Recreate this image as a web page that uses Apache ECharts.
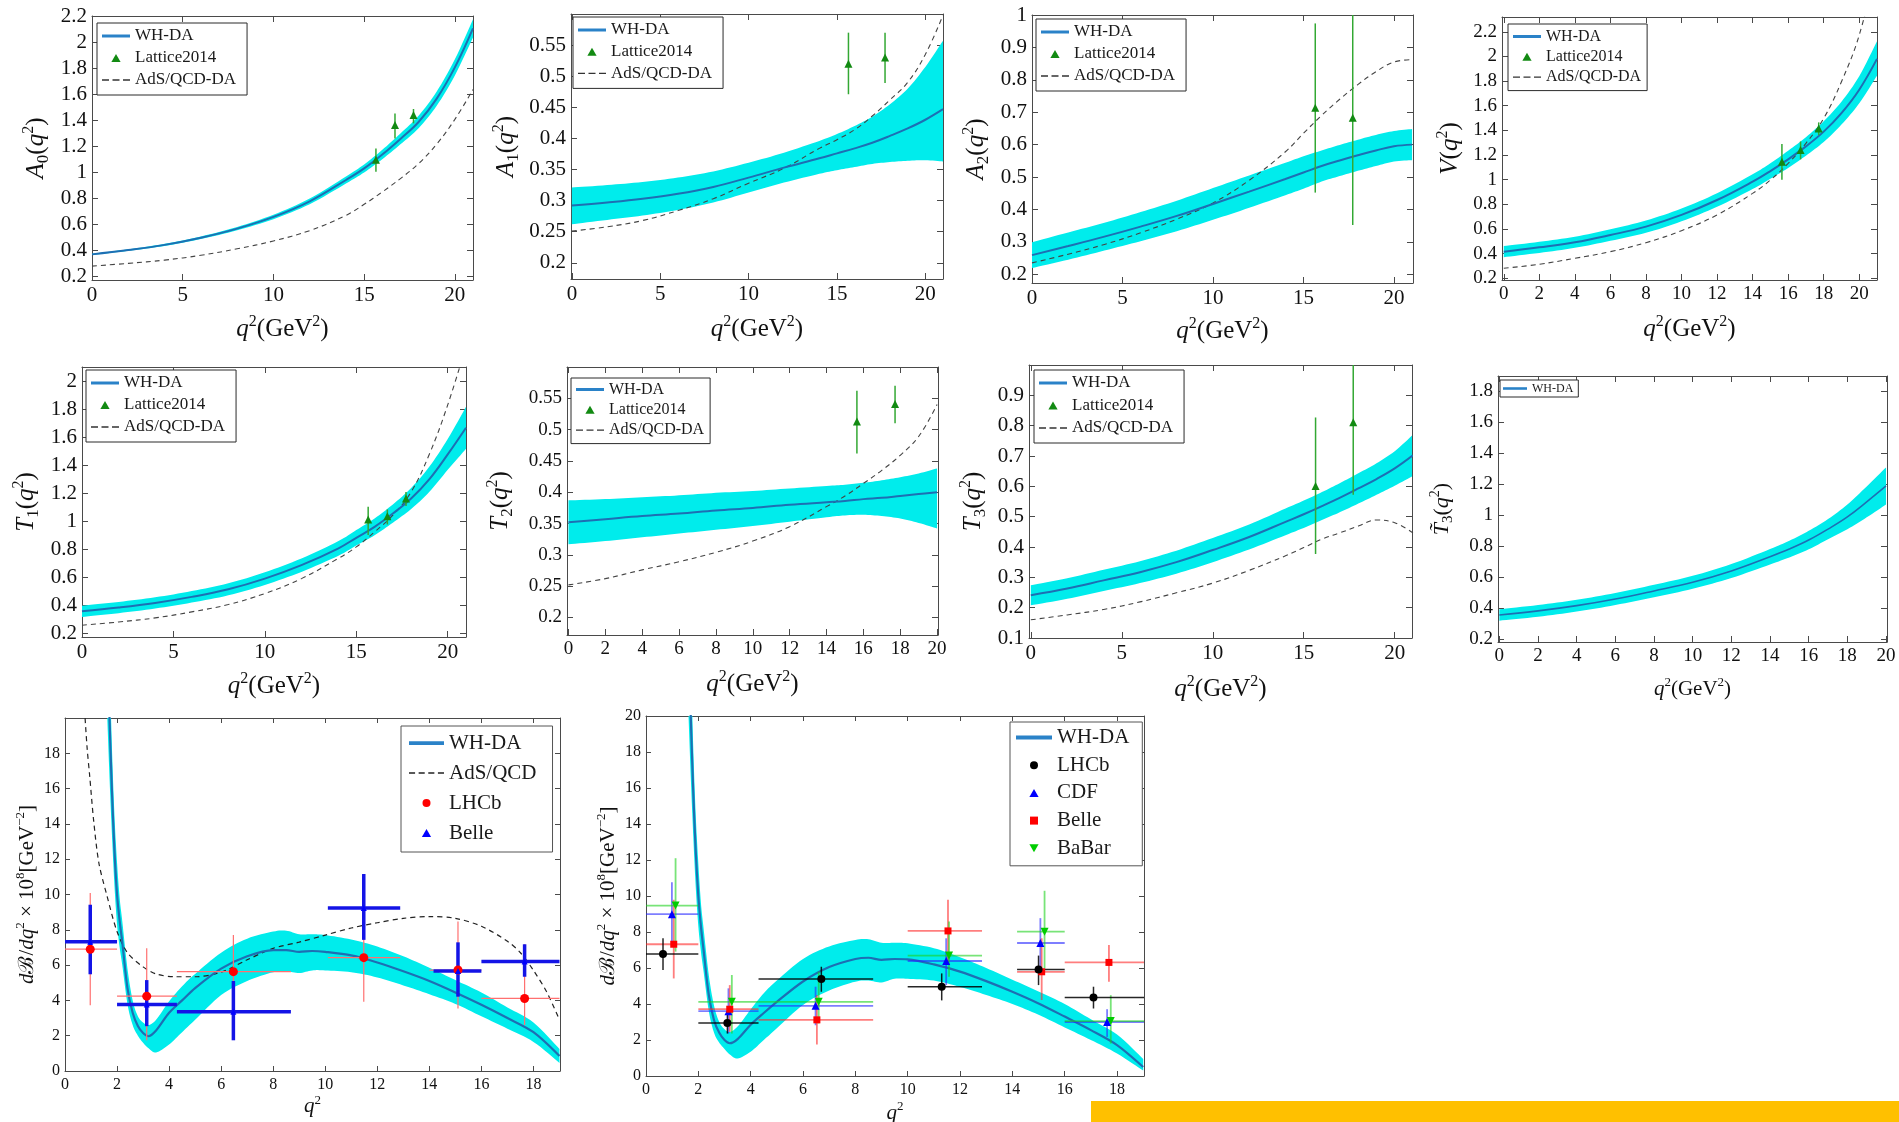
<!DOCTYPE html>
<html>
<head>
<meta charset="utf-8">
<script src="https://cdn.jsdelivr.net/npm/echarts@6/dist/echarts.min.js"></script>
<style>
  html, body { margin: 0; padding: 0; background: #ffffff; }
  #chart { width: 1899px; height: 1122px; }
</style>
</head>
<body>
<div id="chart"></div>
<script>
// ---------------- q^2 grids (GeV^2) ----------------
const Q21 = [0, 2, 4, 6, 8, 10, 12, 14, 15, 16, 17, 18, 19, 20, 21];
const Q20 = [0, 2, 4, 6, 8, 10, 12, 14, 15, 16, 17, 18, 19, 20];
const LAT_Q3 = [15.65, 16.7, 17.72];
const LAT_Q2 = [15.65, 17.72];

// ---------------- A0 ----------------
const A0_MID = [0.372, 0.405, 0.445, 0.50, 0.57, 0.66, 0.78, 0.944, 1.033, 1.14, 1.26, 1.39, 1.57, 1.81, 2.11];
const A0_HI  = [0.376, 0.411, 0.453, 0.51, 0.583, 0.677, 0.802, 0.971, 1.064, 1.176, 1.302, 1.438, 1.625, 1.872, 2.18];
const A0_LO  = [0.368, 0.399, 0.437, 0.49, 0.557, 0.643, 0.758, 0.917, 1.002, 1.104, 1.218, 1.342, 1.515, 1.748, 2.04];
const A0_ADS = [0.282, 0.303, 0.328, 0.365, 0.415, 0.475, 0.555, 0.672, 0.757, 0.852, 0.955, 1.07, 1.22, 1.41, 1.64];
const A0_LAT_V  = [1.10, 1.367, 1.444];
const A0_LAT_LO = [1.008, 1.264, 1.38];
const A0_LAT_HI = [1.187, 1.456, 1.49];

// ---------------- A1 ----------------
const A1_MID = [0.292, 0.297, 0.303, 0.311, 0.322, 0.337, 0.353, 0.368, 0.376, 0.384, 0.393, 0.404, 0.416, 0.430, 0.447];
const A1_HI  = [0.321, 0.325, 0.330, 0.337, 0.347, 0.361, 0.377, 0.396, 0.407, 0.42, 0.435, 0.455, 0.48, 0.515, 0.557];
const A1_LO  = [0.262, 0.269, 0.276, 0.285, 0.297, 0.313, 0.329, 0.343, 0.349, 0.354, 0.359, 0.362, 0.364, 0.365, 0.363];
const A1_ADS = [0.251, 0.258, 0.268, 0.284, 0.303, 0.328, 0.352, 0.384, 0.398, 0.414, 0.436, 0.462, 0.49, 0.535, 0.598];
const A1_LAT_V  = [0.52, 0.53];
const A1_LAT_LO = [0.471, 0.489];
const A1_LAT_HI = [0.57, 0.57];

// ---------------- A2 ----------------
const A2_MID = [0.259, 0.287, 0.316, 0.347, 0.38, 0.417, 0.455, 0.494, 0.514, 0.534, 0.551, 0.567, 0.582, 0.595, 0.60];
const A2_HI  = [0.299, 0.329, 0.359, 0.392, 0.427, 0.466, 0.505, 0.544, 0.564, 0.582, 0.599, 0.615, 0.63, 0.642, 0.648];
const A2_LO  = [0.219, 0.245, 0.273, 0.302, 0.333, 0.368, 0.405, 0.444, 0.464, 0.486, 0.503, 0.519, 0.534, 0.548, 0.552];
const A2_ADS = [0.235, 0.262, 0.292, 0.328, 0.37, 0.42, 0.49, 0.578, 0.635, 0.69, 0.74, 0.785, 0.825, 0.855, 0.862];
const A2_LAT_V  = [0.714, 0.683];
const A2_LAT_LO = [0.452, 0.352];
const A2_LAT_HI = [0.974, 1.013];

// ---------------- V ----------------
const V_MID = [0.416, 0.451, 0.492, 0.551, 0.619, 0.714, 0.835, 0.984, 1.07, 1.165, 1.27, 1.39, 1.54, 1.73, 1.98];
const V_HI  = [0.461, 0.496, 0.537, 0.598, 0.669, 0.766, 0.89, 1.044, 1.133, 1.235, 1.345, 1.474, 1.633, 1.84, 2.124];
const V_LO  = [0.371, 0.406, 0.447, 0.504, 0.569, 0.662, 0.78, 0.924, 1.007, 1.095, 1.195, 1.306, 1.447, 1.62, 1.844];
const V_ADS = [0.281, 0.314, 0.362, 0.416, 0.489, 0.586, 0.714, 0.889, 0.997, 1.132, 1.295, 1.497, 1.795, 2.173, 2.75];
const V_LAT_V  = [1.146, 1.24, 1.416];
const V_LAT_LO = [1.0, 1.165, 1.362];
const V_LAT_HI = [1.29, 1.31, 1.465];

// ---------------- T1 ----------------
const T1_MID = [0.359, 0.386, 0.419, 0.462, 0.516, 0.592, 0.688, 0.806, 0.883, 0.961, 1.056, 1.163, 1.301, 1.477, 1.667];
const T1_HI  = [0.399, 0.426, 0.459, 0.503, 0.559, 0.637, 0.736, 0.858, 0.938, 1.021, 1.121, 1.238, 1.391, 1.587, 1.817];
const T1_LO  = [0.319, 0.346, 0.379, 0.421, 0.473, 0.547, 0.64, 0.754, 0.828, 0.901, 0.991, 1.088, 1.211, 1.367, 1.517];
const T1_ADS = [0.26, 0.283, 0.312, 0.355, 0.407, 0.486, 0.592, 0.735, 0.818, 0.925, 1.044, 1.21, 1.48, 1.83, 2.25];
const T1_LAT_V  = [1.013, 1.037, 1.163];
const T1_LAT_LO = [0.902, 0.978, 1.11];
const T1_LAT_HI = [1.104, 1.085, 1.21];

// ---------------- T2 ----------------
const T2_MID = [0.352, 0.357, 0.362, 0.366, 0.371, 0.375, 0.38, 0.384, 0.386, 0.389, 0.391, 0.394, 0.397, 0.40];
const T2_HI  = [0.387, 0.389, 0.392, 0.395, 0.399, 0.402, 0.406, 0.41, 0.412, 0.415, 0.419, 0.424, 0.43, 0.438];
const T2_LO  = [0.317, 0.322, 0.328, 0.334, 0.34, 0.346, 0.353, 0.36, 0.363, 0.364, 0.362, 0.358, 0.351, 0.342];
const T2_ADS = [0.252, 0.262, 0.276, 0.289, 0.304, 0.322, 0.345, 0.377, 0.394, 0.414, 0.435, 0.459, 0.489, 0.54];
const T2_LAT_V  = [0.513, 0.541];
const T2_LAT_LO = [0.462, 0.51];
const T2_LAT_HI = [0.562, 0.57];

// ---------------- T3 ----------------
const T3_MID = [0.241, 0.263, 0.29, 0.317, 0.35, 0.39, 0.433, 0.483, 0.508, 0.535, 0.563, 0.593, 0.624, 0.659, 0.702];
const T3_HI  = [0.274, 0.297, 0.325, 0.353, 0.388, 0.43, 0.474, 0.527, 0.553, 0.581, 0.611, 0.643, 0.676, 0.716, 0.77];
const T3_LO  = [0.208, 0.229, 0.255, 0.281, 0.312, 0.35, 0.392, 0.439, 0.463, 0.489, 0.515, 0.543, 0.572, 0.602, 0.634];
const T3_ADS = [0.16, 0.176, 0.194, 0.219, 0.249, 0.281, 0.323, 0.371, 0.398, 0.426, 0.447, 0.469, 0.489, 0.48, 0.447];
const T3_LAT_V  = [0.601, 0.811];
const T3_LAT_LO = [0.377, 0.572];
const T3_LAT_HI = [0.827, 1.05];

// ---------------- T3 tilde ----------------
const T3T_MID = [0.355, 0.381, 0.415, 0.458, 0.51, 0.566, 0.639, 0.731, 0.781, 0.839, 0.91, 0.989, 1.086, 1.189];
const T3T_HI  = [0.392, 0.419, 0.453, 0.497, 0.55, 0.608, 0.684, 0.781, 0.835, 0.899, 0.975, 1.069, 1.186, 1.309];
const T3T_LO  = [0.318, 0.343, 0.377, 0.419, 0.47, 0.524, 0.594, 0.681, 0.727, 0.779, 0.845, 0.909, 0.986, 1.069];

// ---------------- dB/dq^2 panels ----------------
const BQ = [1.6, 1.7, 1.8, 1.9, 2.0, 2.1, 2.2, 2.4, 2.6, 2.8, 3.0, 3.2, 3.5, 4, 4.5, 5, 6, 7, 8, 8.5, 9, 9.5, 10, 11, 12, 13, 14, 15, 16, 17, 18, 19];
const BL_MID = [26, 20.5, 16, 12.5, 10, 8.5, 7.3, 4.7, 3.3, 2.55, 2.15, 1.97, 2.3, 3.3, 4.0, 4.7, 5.8, 6.5, 6.85, 6.85, 6.75, 6.8, 6.75, 6.55, 6.15, 5.65, 5.1, 4.45, 3.75, 3.0, 2.2, 0.85];
const BL_HI  = [30, 24, 18.5, 14.5, 11.8, 9.8, 8.5, 5.8, 4.0, 3.1, 2.75, 2.6, 2.9, 3.95, 4.8, 5.5, 6.7, 7.5, 7.9, 7.95, 7.75, 7.75, 7.7, 7.45, 7.05, 6.5, 5.85, 5.15, 4.45, 3.6, 2.75, 1.25];
const BL_LO  = [21, 17, 13.5, 10.5, 8.3, 7.0, 6.0, 3.8, 2.6, 2.0, 1.6, 1.3, 1.05, 1.5, 2.2, 2.9, 4.3, 5.1, 5.6, 5.65, 5.55, 5.7, 5.7, 5.6, 5.3, 4.85, 4.35, 3.8, 3.1, 2.4, 1.65, 0.45];
const BL_ADS_Q = [0.75, 0.85, 0.95, 1.1, 1.3, 1.6, 2.0, 2.4, 3.0, 3.5, 4.2, 5.0, 6, 7, 8, 9, 10, 11, 12, 13, 14, 15, 16, 17, 17.5, 18, 18.5, 19];
const BL_ADS   = [20.5, 18.3, 16.7, 14.2, 11.8, 10.0, 7.9, 6.7, 5.9, 5.5, 5.34, 5.34, 5.6, 6.3, 6.95, 7.3, 7.7, 8.1, 8.4, 8.65, 8.75, 8.65, 8.2, 7.35, 6.7, 5.7, 4.5, 2.9];

const BM_MID = [26, 20.5, 16, 12.5, 10, 8.3, 7.0, 4.5, 3.1, 2.4, 2.0, 1.82, 2.05, 2.85, 3.5, 4.12, 5.25, 6.05, 6.5, 6.57, 6.45, 6.5, 6.48, 6.2, 5.8, 5.27, 4.68, 4.03, 3.3, 2.55, 1.72, 0.5];
const BM_HI  = [30, 24, 18.5, 14.5, 11.8, 9.6, 8.2, 5.6, 3.9, 3.0, 2.6, 2.45, 2.75, 3.7, 4.6, 5.3, 6.5, 7.2, 7.56, 7.6, 7.4, 7.4, 7.37, 7.1, 6.6, 6.0, 5.35, 4.7, 4.0, 3.15, 2.3, 0.95];
const BM_LO  = [21, 17, 13.5, 10.5, 8.3, 6.9, 5.8, 3.6, 2.4, 1.85, 1.5, 1.2, 0.97, 1.35, 2.0, 2.65, 3.95, 4.75, 5.24, 5.3, 5.2, 5.4, 5.4, 5.3, 4.95, 4.5, 4.0, 3.4, 2.7, 2.0, 1.25, 0.3];

// measured branching fractions (left panel)
const BL_LHCB_Q  = [0.97, 3.14, 6.47, 11.48, 15.1, 17.66];
const BL_LHCB_V  = [6.9, 4.24, 5.63, 6.42, 5.72, 4.11];
const BL_LHCB_LO = [3.73, 1.74, 2.97, 3.92, 3.54, 2.6];
const BL_LHCB_HI = [10.08, 6.95, 7.71, 8.9, 8.47, 7.18];
const BL_LHCB_QLO = [0, 2, 4.3, 10.1, 14.0, 16];
const BL_LHCB_QHI = [2, 4.3, 8.68, 12.88, 16, 19];
const BL_BELLE_Q  = [0.97, 3.14, 6.47, 11.48, 15.1, 17.66];
const BL_BELLE_V  = [7.33, 3.77, 3.35, 9.23, 5.67, 6.2];
const BL_BELLE_LO = [5.48, 2.54, 1.74, 7.43, 4.21, 5.34];
const BL_BELLE_HI = [9.42, 5.15, 5.1, 11.16, 7.29, 7.18];
const BL_BELLE_QLO = [0, 2, 4.3, 10.1, 14.16, 16];
const BL_BELLE_QHI = [2, 4.3, 8.68, 12.88, 16, 19];

// measured branching fractions (right panel)
const BM_QLO = [0, 2, 4.3, 10.0, 14.18, 16];
const BM_QHI = [2, 4.3, 8.68, 12.84, 16, 19.2];
const BM_LHCB_Q  = [0.65, 3.11, 6.7, 11.3, 15.0, 17.1];
const BM_LHCB_V  = [6.78, 2.95, 5.39, 4.96, 5.92, 4.36];
const BM_LHCB_LO = [5.89, 2.36, 4.68, 4.2, 5.05, 3.75];
const BM_LHCB_HI = [7.65, 3.57, 6.07, 5.7, 6.69, 4.96];
const BM_CDF_Q  = [0.99, 3.15, 6.48, 11.47, 15.07, 17.62];
const BM_CDF_V  = [8.99, 3.6, 3.9, 6.39, 7.39, 3.0];
const BM_CDF_LO = [7.28, 2.36, 2.82, 5.05, 5.98, 2.17];
const BM_CDF_HI = [10.77, 4.87, 4.96, 7.65, 8.77, 3.71];
const BM_BELLE_Q  = [1.06, 3.2, 6.53, 11.54, 15.12, 17.69];
const BM_BELLE_V  = [7.32, 3.71, 3.12, 8.06, 5.79, 6.31];
const BM_BELLE_LO = [5.42, 2.45, 1.75, 6.35, 4.22, 5.24];
const BM_BELLE_HI = [9.79, 5.05, 4.49, 9.79, 7.65, 7.28];
const BM_BABAR_Q  = [1.13, 3.28, 6.6, 11.58, 15.23, 17.76];
const BM_BABAR_V  = [9.47, 4.12, 4.12, 6.69, 8.02, 3.05];
const BM_BABAR_LO = [6.91, 2.36, 2.92, 5.52, 5.98, 1.8];
const BM_BABAR_HI = [12.1, 5.61, 5.79, 8.58, 10.29, 4.49];

// ---------------- tick values ----------------
const XT_5 = [0, 5, 10, 15, 20];
const XT_2 = [0, 2, 4, 6, 8, 10, 12, 14, 16, 18, 20];
const XT_B = [0, 2, 4, 6, 8, 10, 12, 14, 16, 18];
const YT_A0 = [0.2, 0.4, 0.6, 0.8, 1, 1.2, 1.4, 1.6, 1.8, 2, 2.2];
const YT_A1 = [0.2, 0.25, 0.3, 0.35, 0.4, 0.45, 0.5, 0.55];
const YT_A2 = [0.2, 0.3, 0.4, 0.5, 0.6, 0.7, 0.8, 0.9, 1];
const YT_T1 = [0.2, 0.4, 0.6, 0.8, 1, 1.2, 1.4, 1.6, 1.8, 2];
const YT_T3 = [0.1, 0.2, 0.3, 0.4, 0.5, 0.6, 0.7, 0.8, 0.9];
const YT_T3T = [0.2, 0.4, 0.6, 0.8, 1, 1.2, 1.4, 1.6, 1.8];
const YT_BL = [0, 2, 4, 6, 8, 10, 12, 14, 16, 18];
const YT_BM = [0, 2, 4, 6, 8, 10, 12, 14, 16, 18, 20];

// ---------------- styling ----------------
const SERIF = '"Liberation Serif", "DejaVu Serif", "Times New Roman", serif';
const CYAN = '#00ECEC';
const BLUE = '#1d6fb3';
const LEG_BLUE = '#2a82c8';
const GREEN = '#128a12';
const GREEN_BAR = '#33a833';
const AXIS = '#4a4a4a';
const XNAME = '{i|q}{s|2}(GeV{s|2})';
const BNAME_Y = '{i|d}ℬ/{i|dq}{s|2} × 10{s|8}[GeV{s|−2}]';

const grids = [], xAxes = [], yAxes = [], series = [], legends = [];

function fmt(v) { return String(Math.round(v * 1000) / 1000); }

// math-style axis titles: italic symbols, raised superscripts, lowered subscripts
function nameStyle(ns) {
  const lh = Math.round(ns * 1.25);
  const ss = Math.round(ns * 0.64);
  return {
    fontFamily: SERIF, fontSize: ns, lineHeight: lh, color: '#111',
    rich: {
      i: { fontFamily: SERIF, fontSize: ns, lineHeight: lh, fontStyle: 'italic', color: '#111' },
      s: { fontFamily: SERIF, fontSize: ss, lineHeight: Math.round(ns * 0.82), verticalAlign: 'top', color: '#111' },
      b: { fontFamily: SERIF, fontSize: ss + 1, lineHeight: Math.round(ns * 0.8), verticalAlign: 'bottom', color: '#111' }
    }
  };
}

function axes(kind, p, range, ticks, ls, name, gap, ns, tickLen, margin) {
  const tick = { show: true, inside: true, length: tickLen, customValues: ticks, lineStyle: { color: AXIS, width: 1 } };
  const line = { show: true, onZero: false, lineStyle: { color: AXIS, width: 1 } };
  const main = {
    gridIndex: p, type: 'value', min: range[0], max: range[1],
    position: kind === 'x' ? 'bottom' : 'left',
    splitLine: { show: false }, axisLine: line, axisTick: tick,
    axisLabel: { show: true, customValues: ticks, formatter: fmt, margin: margin,
                 fontFamily: SERIF, fontSize: ls, color: '#111' },
    name: name, nameLocation: 'middle', nameGap: gap, nameTextStyle: nameStyle(ns)
  };
  const mirror = {
    gridIndex: p, type: 'value', min: range[0], max: range[1],
    position: kind === 'x' ? 'top' : 'right',
    splitLine: { show: false }, axisLine: line, axisTick: tick, axisLabel: { show: false }
  };
  return [main, mirror];
}

function pairs(q, v) { return q.map((x, i) => [x, v[i]]); }

// smooth pixel path through the mapped points (Catmull-Rom), used only for drawing
function smoothPts(pts, n) {
  const out = [];
  const m = pts.length;
  for (let i = 0; i < m - 1; i++) {
    const p0 = pts[Math.max(i - 1, 0)], p1 = pts[i], p2 = pts[i + 1], p3 = pts[Math.min(i + 2, m - 1)];
    for (let k = 0; k < n; k++) {
      const t = k / n, t2 = t * t, t3 = t2 * t;
      const f = (a, b, c, d) => 0.5 * (2 * b + (c - a) * t + (2 * a - 5 * b + 4 * c - d) * t2 + (3 * b - a - 3 * c + d) * t3);
      out.push([f(p0[0], p1[0], p2[0], p3[0]), f(p0[1], p1[1], p2[1], p3[1])]);
    }
  }
  out.push(pts[m - 1]);
  return out;
}

function addBand(p, q, lo, hi) {
  series.push({
    type: 'custom', xAxisIndex: 2 * p, yAxisIndex: 2 * p, clip: true, silent: true, z: 1,
    data: q.map((x, i) => [x, lo[i], hi[i]]),
    encode: { x: 0, y: [1, 2] },
    renderItem: function (params, api) {
      if (params.dataIndex !== 0) return null;
      const up = smoothPts(q.map((x, i) => api.coord([x, hi[i]])), 8);
      const dn = smoothPts(q.map((x, i) => api.coord([x, lo[i]])), 8).reverse();
      return { type: 'polygon', shape: { points: up.concat(dn) }, style: { fill: CYAN, stroke: null } };
    }
  });
}

function addCurve(p, name, q, v, lineStyle, sm, z) {
  series.push({ type: 'line', name: name, xAxisIndex: 2 * p, yAxisIndex: 2 * p, data: pairs(q, v),
                symbol: 'none', smooth: sm, lineStyle: lineStyle, silent: true, z: z,
                emphasis: { disabled: true } });
}

function addPts(p, name, q, v, symbol, size, color) {
  series.push({ type: 'scatter', name: name, xAxisIndex: 2 * p, yAxisIndex: 2 * p, data: pairs(q, v),
                symbol: symbol, symbolSize: size, itemStyle: { color: color, opacity: 1 },
                silent: true, z: 6, emphasis: { disabled: true } });
}

function addErr(p, q, v, lo, hi, color, width, qlo, qhi) {
  const bins = !!qlo;
  const data = q.map((x, i) => bins ? [x, v[i], lo[i], hi[i], qlo[i], qhi[i]] : [x, v[i], lo[i], hi[i]]);
  series.push({
    type: 'custom', xAxisIndex: 2 * p, yAxisIndex: 2 * p, data: data, clip: true, silent: true, z: 5,
    encode: { x: 0, y: 1 },
    renderItem: function (params, api) {
      const x = api.value(0), y = api.value(1);
      const a = api.coord([x, api.value(2)]), b = api.coord([x, api.value(3)]);
      const kids = [{ type: 'line', shape: { x1: a[0], y1: a[1], x2: b[0], y2: b[1] },
                      style: { stroke: color, lineWidth: width } }];
      if (bins) {
        const c = api.coord([api.value(4), y]), d = api.coord([api.value(5), y]);
        kids.push({ type: 'line', shape: { x1: c[0], y1: c[1], x2: d[0], y2: d[1] },
                    style: { stroke: color, lineWidth: width } });
      }
      return { type: 'group', children: kids };
    }
  });
}

// legend icons
const ICON_LINE = 'path://M0,0H28V3H0Z';
const ICON_DASH3 = 'path://M0,0H7V1.3H0ZM10.5,0H17.5V1.3H10.5ZM21,0H28V1.3H21Z';
const ICON_DASH4 = 'path://M0,0H6V1.6H0ZM9.5,0H15.5V1.6H9.5ZM19,0H25V1.6H19ZM28.5,0H34.5V1.6H28.5Z';
const ICON_UP = 'path://M5,0L10,8.7L0,8.7Z';
const ICON_DOWN = 'path://M0,0H10L5,8.7Z';
const ICON_SQ = 'path://M0,0H10V10H0Z';
const ICON_DOT = 'path://M5,0A5,5,0,1,1,5,10A5,5,0,1,1,5,0Z';

function item(name, icon, color) {
  return { name: name, icon: icon, itemStyle: { color: color, borderWidth: 0, opacity: 1 } };
}

function legendBox(o) {
  return {
    orient: 'vertical', left: o.left, top: o.top, padding: o.pad,
    itemWidth: o.iw, itemHeight: o.ih, itemGap: o.gap, symbolKeepAspect: true,
    borderColor: o.bc || '#2b2b2b', borderWidth: 1, backgroundColor: '#ffffff',
    selectedMode: false, z: 10,
    textStyle: { fontFamily: SERIF, fontSize: o.fs, color: '#1a1a1a', lineHeight: o.lh },
    data: o.items
  };
}

const TOP_ITEMS = [item('WH-DA', ICON_LINE, LEG_BLUE), item('Lattice2014', ICON_UP, GREEN),
                   item('AdS/QCD-DA', ICON_DASH3, '#333333')];

// ---------------- panel layout ----------------
const PANELS = [
  { g: [92, 16, 381, 264],   x: [0, 21],       y: [0.175, 2.205], xt: XT_5, yt: YT_A0,  ls: 21, xg: 34, yn: '{i|A}{b|0}({i|q}{s|2})', yg: 40, ns: 25 },
  { g: [571, 14, 372, 265],  x: [-0.05, 21],   y: [0.174, 0.6],   xt: XT_5, yt: YT_A1,  ls: 21, xg: 35, yn: '{i|A}{b|1}({i|q}{s|2})', yg: 49, ns: 25 },
  { g: [1032, 15, 381, 268], x: [0, 21.05],    y: [0.173, 1],     xt: XT_5, yt: YT_A2,  ls: 21, xg: 33, yn: '{i|A}{b|2}({i|q}{s|2})', yg: 40, ns: 25 },
  { g: [1502, 17, 375, 263], x: [-0.1, 21],    y: [0.186, 2.32],  xt: XT_2, yt: YT_A0,  ls: 19, xg: 34, yn: '{i|V}({i|q}{s|2})',      yg: 36, ns: 25 },
  { g: [82, 367, 384, 270],  x: [0, 21],       y: [0.176, 2.1],   xt: XT_5, yt: YT_T1,  ls: 21, xg: 34, yn: '{i|T}{b|1}({i|q}{s|2})', yg: 40, ns: 25 },
  { g: [567, 367, 371, 268], x: [-0.08, 20.05], y: [0.172, 0.6],  xt: XT_2, yt: YT_A1,  ls: 19, xg: 34, yn: '{i|T}{b|2}({i|q}{s|2})', yg: 51, ns: 25 },
  { g: [1029, 365, 383, 273], x: [-0.1, 20.95], y: [0.1, 1.0],    xt: XT_5, yt: YT_T3,  ls: 21, xg: 36, yn: '{i|T}{b|3}({i|q}{s|2})', yg: 40, ns: 25 },
  { g: [1498, 376, 389, 266], x: [-0.07, 20.05], y: [0.18, 1.9],  xt: XT_2, yt: YT_T3T, ls: 19, xg: 34, yn: '{i|T̃}{b|3}({i|q}{s|2})', yg: 42, ns: 22, xs: 21 },
  { g: [65, 718, 495, 353],  x: [0, 19.02],    y: [0, 20],        xt: XT_B, yt: YT_BL,  ls: 16, xg: 20, yn: BNAME_Y, yg: 22, ns: 21, xs: 21, xn: '{i|q}{s|2}' },
  { g: [646, 716, 498, 360], x: [0, 19.03],    y: [0, 20],        xt: XT_B, yt: YT_BM,  ls: 16, xg: 24, yn: BNAME_Y, yg: 22, ns: 21, xs: 21, xn: '{i|q}{s|2}' }
];

PANELS.forEach((c, p) => {
  grids.push({ left: c.g[0], top: c.g[1], width: c.g[2], height: c.g[3], outerBoundsMode: 'none' });
  const small = p >= 8;
  xAxes.push(...axes('x', p, c.x, c.xt, c.ls, c.xn || XNAME, c.xg, c.xs || c.ns, small ? 5 : 6, small ? 6 : 5));
  yAxes.push(...axes('y', p, c.y, c.yt, c.ls, c.yn, c.yg, c.ns, small ? 5 : 6, 5));
});

const SM = 0.4;
const ADS_TOP = { color: '#444444', width: 1.1, type: [5, 4] };
const MID_STYLE = { color: BLUE, width: 2 };

// form-factor panels
const FF = [
  { p: 0, q: Q21, mid: A0_MID, hi: A0_HI, lo: A0_LO, ads: A0_ADS, lq: LAT_Q3, lv: A0_LAT_V, llo: A0_LAT_LO, lhi: A0_LAT_HI },
  { p: 1, q: Q21, mid: A1_MID, hi: A1_HI, lo: A1_LO, ads: A1_ADS, lq: LAT_Q2, lv: A1_LAT_V, llo: A1_LAT_LO, lhi: A1_LAT_HI },
  { p: 2, q: Q21, mid: A2_MID, hi: A2_HI, lo: A2_LO, ads: A2_ADS, lq: LAT_Q2, lv: A2_LAT_V, llo: A2_LAT_LO, lhi: A2_LAT_HI },
  { p: 3, q: Q21, mid: V_MID,  hi: V_HI,  lo: V_LO,  ads: V_ADS,  lq: LAT_Q3, lv: V_LAT_V,  llo: V_LAT_LO,  lhi: V_LAT_HI },
  { p: 4, q: Q21, mid: T1_MID, hi: T1_HI, lo: T1_LO, ads: T1_ADS, lq: LAT_Q3, lv: T1_LAT_V, llo: T1_LAT_LO, lhi: T1_LAT_HI },
  { p: 5, q: Q20, mid: T2_MID, hi: T2_HI, lo: T2_LO, ads: T2_ADS, lq: LAT_Q2, lv: T2_LAT_V, llo: T2_LAT_LO, lhi: T2_LAT_HI },
  { p: 6, q: Q21, mid: T3_MID, hi: T3_HI, lo: T3_LO, ads: T3_ADS, lq: LAT_Q2, lv: T3_LAT_V, llo: T3_LAT_LO, lhi: T3_LAT_HI }
];
FF.forEach(f => {
  addBand(f.p, f.q, f.lo, f.hi);
  addCurve(f.p, 'AdS/QCD-DA', f.q, f.ads, ADS_TOP, SM, 2);
  addCurve(f.p, 'WH-DA', f.q, f.mid, MID_STYLE, SM, 3);
  addErr(f.p, f.lq, f.lv, f.llo, f.lhi, GREEN_BAR, 1.5);
  addPts(f.p, 'Lattice2014', f.lq, f.lv, 'triangle', 8, GREEN);
});
addBand(7, Q20, T3T_LO, T3T_HI);
addCurve(7, 'WH-DA', Q20, T3T_MID, { color: BLUE, width: 1.6 }, SM, 3);

// branching-fraction panels
addBand(8, BQ, BL_LO, BL_HI);
addCurve(8, 'AdS/QCD', BL_ADS_Q, BL_ADS, { color: '#222222', width: 1.2, type: [5, 4] }, 0.3, 2);
addCurve(8, 'WH-DA', BQ, BL_MID, { color: BLUE, width: 2.2 }, 0.3, 3);
addErr(8, BL_LHCB_Q, BL_LHCB_V, BL_LHCB_LO, BL_LHCB_HI, '#ff7070', 1.2, BL_LHCB_QLO, BL_LHCB_QHI);
addErr(8, BL_BELLE_Q, BL_BELLE_V, BL_BELLE_LO, BL_BELLE_HI, '#1414e6', 3.5, BL_BELLE_QLO, BL_BELLE_QHI);
addPts(8, 'LHCb', BL_LHCB_Q, BL_LHCB_V, 'circle', 9, '#ff0000');
addPts(8, 'Belle', BL_BELLE_Q, BL_BELLE_V, 'triangle', 6, '#0000ff');

addBand(9, BQ, BM_LO, BM_HI);
addCurve(9, 'WH-DA', BQ, BM_MID, { color: BLUE, width: 2.2 }, 0.3, 3);
addErr(9, BM_CDF_Q, BM_CDF_V, BM_CDF_LO, BM_CDF_HI, 'rgba(40,40,255,0.6)', 1.8, BM_QLO, BM_QHI);
addErr(9, BM_BELLE_Q, BM_BELLE_V, BM_BELLE_LO, BM_BELLE_HI, 'rgba(255,40,40,0.6)', 1.8, BM_QLO, BM_QHI);
addErr(9, BM_BABAR_Q, BM_BABAR_V, BM_BABAR_LO, BM_BABAR_HI, 'rgba(30,210,30,0.6)', 1.8, BM_QLO, BM_QHI);
addErr(9, BM_LHCB_Q, BM_LHCB_V, BM_LHCB_LO, BM_LHCB_HI, 'rgba(0,0,0,0.85)', 1.5, BM_QLO, BM_QHI);
addPts(9, 'CDF', BM_CDF_Q, BM_CDF_V, 'triangle', 8, '#0000ff');
addPts(9, 'BelleSq', BM_BELLE_Q, BM_BELLE_V, 'rect', 7, '#ff0000');
addPts(9, 'BaBar', BM_BABAR_Q, BM_BABAR_V, ICON_DOWN, 8, '#00cc00');
addPts(9, 'LHCbDot', BM_LHCB_Q, BM_LHCB_V, 'circle', 8, '#000000');

// ---------------- legends ----------------
legends.push(legendBox({ left: 97, top: 23, pad: [4, 11, 6, 5], iw: 28, ih: 8, gap: 4, fs: 17, lh: 18, items: TOP_ITEMS }));
legends.push(legendBox({ left: 573, top: 17, pad: [4, 11, 6, 5], iw: 28, ih: 8, gap: 3.7, fs: 17, lh: 18, items: TOP_ITEMS }));
legends.push(legendBox({ left: 1036, top: 19, pad: [4, 11, 6, 5], iw: 28, ih: 8, gap: 4, fs: 17, lh: 18, items: TOP_ITEMS }));
legends.push(legendBox({ left: 1508, top: 24, pad: [4, 6, 5, 5], iw: 28, ih: 8, gap: 3.3, fs: 16, lh: 17, items: TOP_ITEMS }));
legends.push(legendBox({ left: 86, top: 370, pad: [4, 11, 6, 5], iw: 28, ih: 8, gap: 4, fs: 17, lh: 18, items: TOP_ITEMS }));
legends.push(legendBox({ left: 571, top: 378, pad: [3, 6, 5, 5], iw: 28, ih: 8, gap: 3.3, fs: 16, lh: 17, items: TOP_ITEMS }));
legends.push(legendBox({ left: 1034, top: 370, pad: [4, 11, 6, 5], iw: 28, ih: 8, gap: 4.5, fs: 17, lh: 18, items: TOP_ITEMS }));
legends.push(legendBox({ left: 1500, top: 380, pad: [2, 5, 2, 3], iw: 24, ih: 6, gap: 0, fs: 12, lh: 13,
  items: [item('WH-DA', ICON_LINE, LEG_BLUE)] }));
legends.push(legendBox({ left: 401, top: 726, pad: [5, 16, 7, 8], iw: 35, ih: 8, gap: 6, fs: 21, lh: 24, bc: '#555555',
  items: [item('WH-DA', ICON_LINE, LEG_BLUE), item('AdS/QCD', ICON_DASH4, '#222222'),
          item('LHCb', ICON_DOT, '#ff0000'), item('Belle', ICON_UP, '#0000ff')] }));
legends.push(legendBox({ left: 1010, top: 722, pad: [4, 13, 6, 6], iw: 36, ih: 8, gap: 4.7, fs: 21, lh: 23, bc: '#555555',
  items: [item('WH-DA', ICON_LINE, LEG_BLUE), item('LHCbDot', ICON_DOT, '#000000'),
          item('CDF', ICON_UP, '#0000ff'), item('BelleSq', ICON_SQ, '#ff0000'),
          item('BaBar', ICON_DOWN, '#00cc00')] }));
// the right-panel experiment series carry distinct ids; show their plain names
legends[legends.length - 1].formatter = function (n) {
  return n === 'LHCbDot' ? 'LHCb' : (n === 'BelleSq' ? 'Belle' : n);
};

const chart = echarts.init(document.getElementById('chart'), null, { renderer: 'canvas', width: 1899, height: 1122 });
chart.setOption({
  animation: false,
  backgroundColor: '#ffffff',
  textStyle: { fontFamily: SERIF },
  grid: grids,
  xAxis: xAxes,
  yAxis: yAxes,
  legend: legends,
  series: series,
  graphic: [{ type: 'rect', left: 1091, top: 1101, shape: { width: 808, height: 21 },
              style: { fill: '#FFC000' }, silent: true }]
});
</script>
</body>
</html>
